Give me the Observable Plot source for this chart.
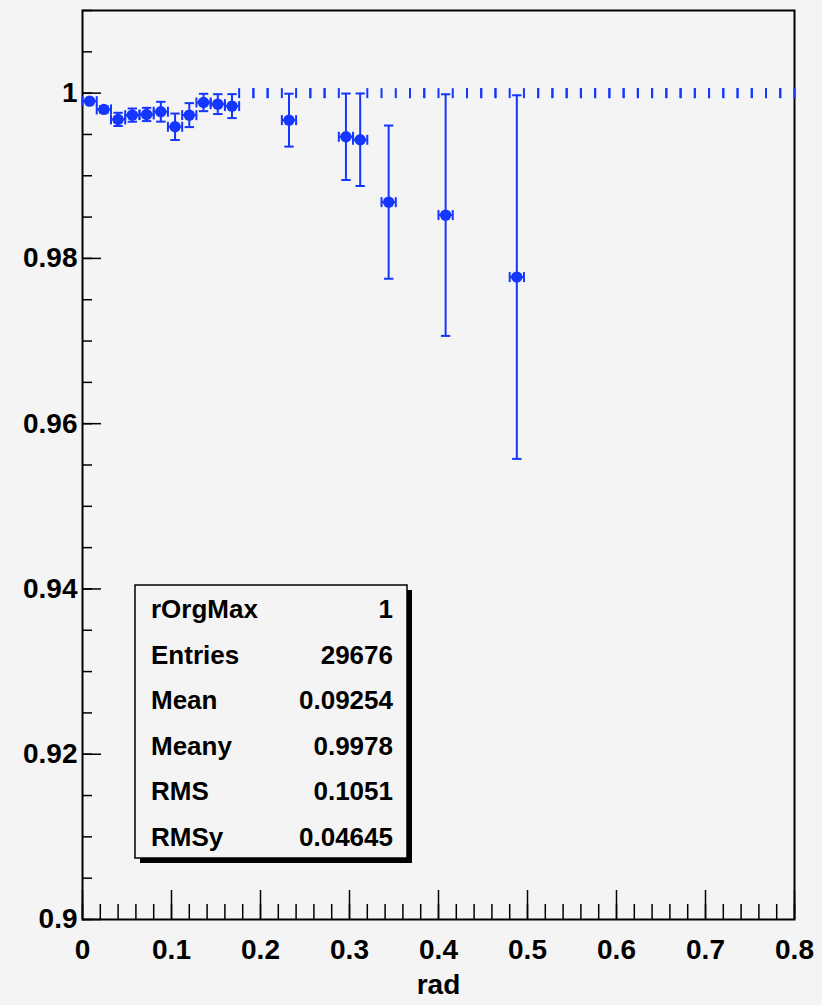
<!DOCTYPE html>
<html>
<head>
<meta charset="utf-8">
<script src="https://cdn.jsdelivr.net/npm/d3@7"></script>
<script src="https://cdn.jsdelivr.net/npm/@observablehq/plot@0.6"></script>
<style>
  html, body { margin: 0; padding: 0; background: #f4f4f4; }
  #chart svg { display: block; }
</style>
</head>
<body>
<div id="chart"></div>
<script>
// Profile histogram rOrgMax vs rad: 50 bins on [0, 0.8]
const xRange = [0, 0.8];
const nBins = 50;

// bin mean (profile content); untouched bins sit at 1 with no error
const binMean = [
  0.99903, 0.99803, 0.99682, 0.99734, 0.99742, 0.99775, 0.99593, 0.99734, 0.99887, 0.99867,
  0.99843, 1, 1, 1, 0.99673, 1, 1, 1, 0.99472, 0.99436,
  1, 0.98681, 1, 1, 1, 0.98524, 1, 1, 1, 1,
  0.97774, 1, 1, 1, 1, 1, 1, 1, 1, 1,
  1, 1, 1, 1, 1, 1, 1, 1, 1, 1
];

// error on the bin mean
const binErr = [
  0.0001, 0.0004, 0.0008, 0.0008, 0.0008, 0.0012, 0.0016, 0.00145, 0.00105, 0.0012,
  0.00145, 0, 0, 0, 0.0032, 0, 0, 0, 0.00523, 0.0056,
  0, 0.00927, 0, 0, 0, 0.01462, 0, 0, 0, 0,
  0.0220, 0, 0, 0, 0, 0, 0, 0, 0, 0,
  0, 0, 0, 0, 0, 0, 0, 0, 0, 0
];

const xMajorTicks = [0, 0.1, 0.2, 0.3, 0.4, 0.5, 0.6, 0.7, 0.8];
const xTickLabels = ["0", "0.1", "0.2", "0.3", "0.4", "0.5", "0.6", "0.7", "0.8"];
const yMajorTicks = [0.9, 0.92, 0.94, 0.96, 0.98, 1];
const yTickLabels = ["0.9", "0.92", "0.94", "0.96", "0.98", "1"];

const statNames = ["rOrgMax", "Entries", "Mean", "Meany", "RMS", "RMSy"];
const statValues = ["1", "29676", "0.09254", "0.9978", "0.1051", "0.04645"];

const blue = "#1436ff";
const font = "'Liberation Sans', Arial, Helvetica, sans-serif";

// bins with their edges
const binWidth = (xRange[1] - xRange[0]) / nBins;
const bins = binMean.map((m, i) => ({
  x: xRange[0] + (i + 0.5) * binWidth,
  x0: xRange[0] + i * binWidth,
  x1: xRange[0] + (i + 1) * binWidth,
  mean: m,
  err: binErr[i]
}));
const filled = bins.filter(d => d.err > 0);
const edgeCaps = bins.flatMap(d => [{x: d.x0, y: d.mean}, {x: d.x1, y: d.mean}]);

// minor tick positions
const xMinor = d3.range(0, 41).map(i => +(i * 0.02).toFixed(3));
const yMinor = d3.range(0, 23).map(i => +(0.9 + i * 0.005).toFixed(4));

const label = (ticks, labels) => d => labels[ticks.findIndex(t => Math.abs(t - d) < 1e-9)];

// short line symbols used for error-bar end caps
const vCap = {draw(ctx, size) { const h = Math.sqrt(size / Math.PI); ctx.moveTo(0, -h); ctx.lineTo(0, h); }};
const hCap = {draw(ctx, size) { const h = Math.sqrt(size / Math.PI); ctx.moveTo(-h, 0); ctx.lineTo(h, 0); }};

const plot = Plot.plot({
  width: 822,
  height: 1005,
  marginLeft: 82,
  marginRight: 28,
  marginTop: 10,
  marginBottom: 86,
  x: {domain: xRange},
  y: {domain: [0.9, 1.01]},
  style: {background: "#f4f4f4", fontFamily: font, color: "black", overflow: "visible"},
  marks: [
    // inward ticks
    Plot.axisX({ticks: xMinor, tickSize: -15, fill: "none", stroke: "black", strokeWidth: 1.5, label: null}),
    Plot.axisX({ticks: xMajorTicks, tickSize: -29, fill: "none", stroke: "black", strokeWidth: 1.5, label: null}),
    Plot.axisY({ticks: yMinor, tickSize: -10, fill: "none", stroke: "black", strokeWidth: 1.5, label: null}),
    Plot.axisY({ticks: yMajorTicks, tickSize: -19, fill: "none", stroke: "black", strokeWidth: 1.5, label: null}),
    // tick labels
    Plot.axisX({ticks: xMajorTicks, tickSize: 0, tickPadding: 20, tickFormat: label(xMajorTicks, xTickLabels),
      fontSize: 28, fontWeight: "bold", label: null}),
    Plot.axisY({ticks: yMajorTicks, tickSize: 0, tickPadding: 5, tickFormat: label(yMajorTicks, yTickLabels),
      fontSize: 28, fontWeight: "bold", label: null}),
    Plot.text(["rad"], {text: d => d, frameAnchor: "bottom", dy: 74, fontSize: 28, fontWeight: "bold", fill: "black"}),
    Plot.frame({stroke: "black", strokeWidth: 2}),

    // horizontal error bars (bin width) with end caps
    Plot.ruleY(filled, {x1: "x0", x2: "x1", y: "mean", stroke: blue, strokeWidth: 2}),
    Plot.dot(edgeCaps, {x: "x", y: "y", symbol: vCap, r: 5, stroke: blue, fill: "none", strokeWidth: 2}),
    // vertical error bars with caps
    Plot.ruleX(filled, {x: "x", y1: d => d.mean - d.err, y2: d => d.mean + d.err, stroke: blue, strokeWidth: 2}),
    Plot.dot(filled, {x: "x", y: d => d.mean - d.err, symbol: hCap, r: 4.7, stroke: blue, fill: "none", strokeWidth: 2}),
    Plot.dot(filled, {x: "x", y: d => d.mean + d.err, symbol: hCap, r: 4.7, stroke: blue, fill: "none", strokeWidth: 2}),
    // markers
    Plot.dot(filled, {x: "x", y: "mean", r: 5.7, fill: blue, stroke: "none"})
  ]
});

// statistics box with drop shadow
const svg = d3.select(plot);
const box = {x: 135, y: 585, w: 272, h: 273, shadow: 5};
const g = svg.append("g")
  .attr("font-family", font).attr("font-weight", "bold").attr("font-size", 26)
  .attr("fill", "black").attr("text-anchor", "start");
g.append("rect")
  .attr("x", box.x + box.shadow).attr("y", box.y + box.shadow)
  .attr("width", box.w).attr("height", box.h)
  .attr("fill", "black");
g.append("rect")
  .attr("x", box.x).attr("y", box.y)
  .attr("width", box.w).attr("height", box.h)
  .attr("fill", "#f4f4f4").attr("stroke", "black").attr("stroke-width", 1.5);
const rowH = box.h / statNames.length;
statNames.forEach((name, i) => {
  const baseline = box.y + rowH * i + 33;
  g.append("text").attr("x", box.x + 16).attr("y", baseline)
    .attr("text-anchor", "start").text(name);
  g.append("text").attr("x", box.x + box.w - 14).attr("y", baseline)
    .attr("text-anchor", "end").text(statValues[i]);
});

document.getElementById("chart").appendChild(plot);
</script>
</body>
</html>
